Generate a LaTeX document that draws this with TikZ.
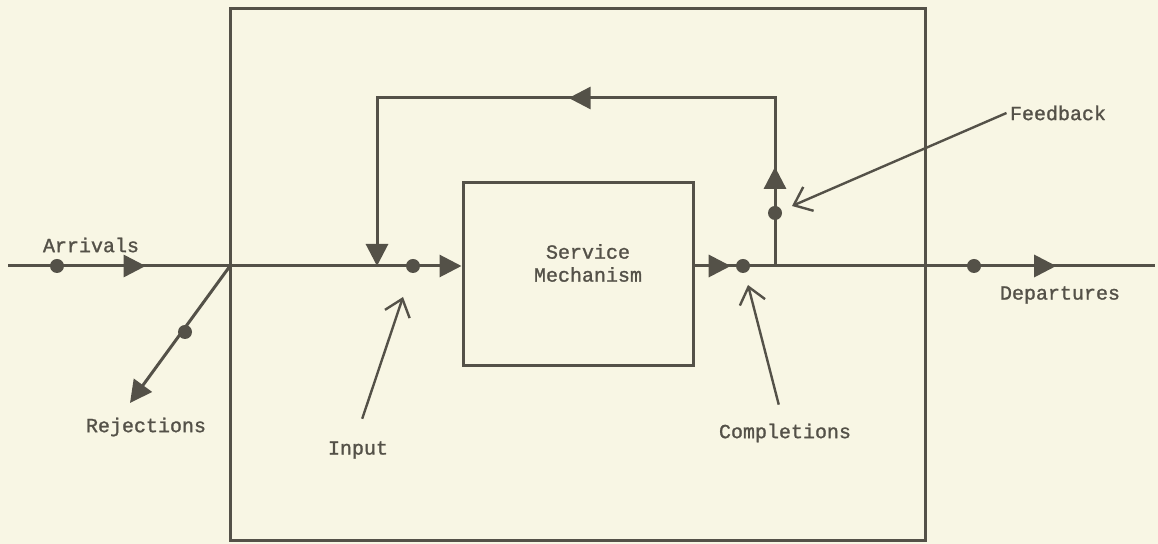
\documentclass[tikz,border=0pt]{standalone}
\usepackage{fontspec}
\setmonofont[FakeBold=1.2]{Liberation Mono}
\usepackage{tikz}
\usetikzlibrary{arrows.meta, positioning, decorations.markings}

\definecolor{ink}{RGB}{84,81,72}
\definecolor{paper}{RGB}{248,246,228}

\begin{document}
\begin{tikzpicture}[
    x=0.5pt, y=-0.5pt,
    color=ink, line width=1.5pt,
    box/.style={rectangle, draw=ink, inner sep=0pt},
    dot/.style={circle, fill=ink, inner sep=0pt, minimum size=7pt},
    tag/.style={font=\ttfamily\fontsize{10}{11.5}\selectfont, text=ink, inner sep=1pt},
    line/.style={draw, -{Triangle[length=11pt, width=11pt]}},
    flow/.style={draw, postaction={decorate, decoration={markings, mark=at position #1 with {\arrow{Triangle[length=11pt, width=11pt]}}}}},
    pointer/.style={draw, line width=1.2pt, -{Straight Barb[length=8pt, width=13pt]}}
]
    % Background
    \fill[paper] (0,0) rectangle (1158,544);

    % Nodes
    \node[box, minimum width=347.5pt, minimum height=266pt] (sys) at (577.5,275) {};
    \node[box, minimum width=115pt, minimum height=91.5pt] (svc) at (578,274.5) {};
    \node[tag, align=center] (svctxt) at (588,263) {Service\\Mechanism};

    \coordinate (src) at (8,266);
    \coordinate (split) at (230,266);
    \coordinate (rej) at (130,403);
    \coordinate (join) at (377,266);
    \coordinate (loop) at (377,98);
    \coordinate (fork) at (775,266);
    \coordinate (sink) at (1155,266);

    \node[tag] (arrlab) at (91,245) {Arrivals};
    \node[tag] (rejlab) at (146,427) {Rejections};
    \node[tag] (inlab) at (358,450) {Input};
    \node[tag] (cplab) at (785,433) {Completions};
    \node[tag] (fblab) at (1058,113) {Feedback};
    \node[tag] (deplab) at (1060,295) {Departures};

    \coordinate (inptr) at (403,297);
    \coordinate (cpptr) at (748,285);
    \coordinate (fbptr) at (792,206);

    % Paths
    \path[flow=0.62] (src) -- (split);
    \path[line] (split) -- (rej);
    \path[line] (split) -- (split -| svc.west);
    \path[flow=0.45] (fork -| svc.east) -- (fork);
    \path[flow=0.74] (fork) -- (sink);
    \path[line, flow=0.135, flow=0.51] (fork) |- (loop) -- (join);

    \path[pointer, shorten <=10pt] (inlab.100) -- (inptr);
    \path[pointer, shorten <=8pt] (cplab.100) -- (cpptr);
    \path[pointer] (fblab.west) -- (fbptr);

    % Dots on the flow lines
    \node[dot] (arrdot) at (57,266) {};
    \node[dot] (rejdot) at (185,332) {};
    \node[dot] (indot) at (413,266) {};
    \node[dot] (cpdot) at (743,266) {};
    \node[dot] (fbdot) at (775,213) {};
    \node[dot] (depdot) at (974,266) {};
\end{tikzpicture}
\end{document}
